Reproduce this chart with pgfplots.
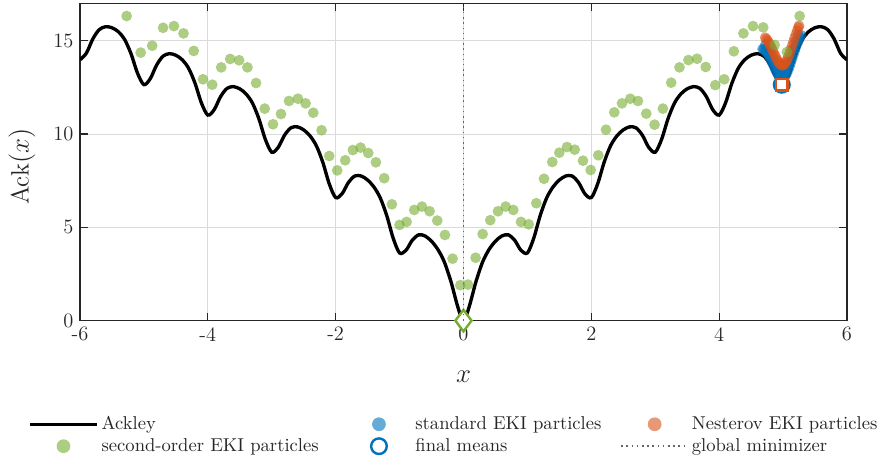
\documentclass[border=0pt]{standalone}
\usepackage{pgfplots}
\pgfplotsset{compat=1.18}
\definecolor{mblue}{RGB}{0,114,189}
\definecolor{morange}{RGB}{217,83,25}
\definecolor{mgreen}{RGB}{119,172,48}
\definecolor{axgray}{RGB}{38,38,38}
\definecolor{gridgray}{RGB}{218,218,218}
\pgfplotsset{
  lineleg/.style={legend image code/.code={\path[draw=none,fill=none] (0pt,-1pt) rectangle (36pt,1pt); \draw[##1] (0pt,0pt) -- (36pt,0pt);}},
  markleg/.style={legend image code/.code={\path[draw=none,fill=none] (0pt,-1pt) rectangle (36pt,1pt); \draw[mark repeat=2,mark phase=2,##1,mark size=3.7pt] plot coordinates {(0pt,0pt) (18pt,0pt) (36pt,0pt)};}},
  circleg/.style={legend image code/.code={\path[draw=none,fill=none] (0pt,-1pt) rectangle (36pt,1pt); \draw[mark repeat=2,mark phase=2,##1] plot coordinates {(0pt,0pt) (18pt,0pt) (36pt,0pt)};}},
}
\begin{document}
\begin{tikzpicture}
\begin{axis}[
  at={(0,0)}, anchor=south west,
  scale only axis, width=412.4pt, height=170.6pt,
  xmin=-6, xmax=6, ymin=0, ymax=17,
  xtick={-6,-4,-2,0,2,4,6}, ytick={0,5,10,15},
  grid=major, major grid style={gridgray, line width=0.5pt},
  axis line style={axgray, line width=0.7pt},
  tick style={axgray, line width=0.6pt},
  tick align=inside, major tick length=4.2pt,
  ticklabel style={font=\fontsize{11}{13}\selectfont, text=axgray},
  /pgf/number format/assume math mode=true,
  xlabel={$x$}, ylabel={Ack$(x)$},
  label style={font=\fontsize{13.5}{16}\selectfont, text=axgray},
  xlabel style={at={(axis description cs:0.5,-0.1764)}, anchor=center},
  ylabel style={at={(axis description cs:-0.0757,0.485)}, anchor=center},
  clip mode=individual,
  legend columns=3,
  legend cell align=left,
  legend style={draw=none, fill=none, inner sep=0pt, font=\fontsize{10}{12}\selectfont, text=axgray,
    at={(axis description cs:-0.0678,-0.361)}, anchor=west,
    nodes={inner sep=1.6pt},
    /tikz/column 2/.style={column sep=12.8pt},
    /tikz/column 4/.style={column sep=8.6pt}},
]
% Ackley function
\addplot[black, line width=1.8pt, smooth, lineleg] coordinates {
(-6.0,13.976) (-5.9,14.327) (-5.8,15.086) (-5.7,15.588) (-5.6,15.747) (-5.5,15.693) (-5.4,15.481) (-5.3,15.055) (-5.2,14.287) (-5.1,13.261)
(-5.0,12.642) (-4.9,12.966) (-4.8,13.698) (-4.7,14.172) (-4.6,14.303) (-4.5,14.219) (-4.4,13.977) (-4.3,13.521) (-4.2,12.722) (-4.1,11.664)
(-4.0,11.013) (-3.9,11.304) (-3.8,12.003) (-3.7,12.442) (-3.6,12.538) (-3.5,12.419) (-3.4,12.141) (-3.3,11.647) (-3.2,10.810) (-3.1,9.714)
(-3.0,9.024) (-2.9,9.275) (-2.8,9.932) (-2.7,10.329) (-2.6,10.383) (-2.5,10.220) (-2.4,9.897) (-2.3,9.358) (-2.2,8.475) (-2.1,7.332)
(-2.0,6.594) (-1.9,6.795) (-1.8,7.403) (-1.7,7.749) (-1.6,7.750) (-1.5,7.534) (-1.4,7.157) (-1.3,6.563) (-1.2,5.624) (-1.1,4.422)
(-1.0,3.625) (-0.9,3.767) (-0.8,4.313) (-0.7,4.597) (-0.6,4.535) (-0.5,4.254) (-0.4,3.811) (-0.3,3.149) (-0.2,2.140) (-0.15,1.509) (-0.1,0.868) (-0.05,0.329)
(0,0)};
\addlegendentry{Ackley}
\addplot[black, line width=1.8pt, smooth, forget plot] coordinates {
(0,0) (0.05,0.329) (0.1,0.868) (0.15,1.509) (0.2,2.140) (0.3,3.149) (0.4,3.811) (0.5,4.254) (0.6,4.535) (0.7,4.597) (0.8,4.313) (0.9,3.767)
(1.0,3.625) (1.1,4.422) (1.2,5.624) (1.3,6.563) (1.4,7.157) (1.5,7.534) (1.6,7.750) (1.7,7.749) (1.8,7.403) (1.9,6.795)
(2.0,6.594) (2.1,7.332) (2.2,8.475) (2.3,9.358) (2.4,9.897) (2.5,10.220) (2.6,10.383) (2.7,10.329) (2.8,9.932) (2.9,9.275)
(3.0,9.024) (3.1,9.714) (3.2,10.810) (3.3,11.647) (3.4,12.141) (3.5,12.419) (3.6,12.538) (3.7,12.442) (3.8,12.003) (3.9,11.304)
(4.0,11.013) (4.1,11.664) (4.2,12.722) (4.3,13.521) (4.4,13.977) (4.5,14.219) (4.6,14.303) (4.7,14.172) (4.8,13.698) (4.9,12.966)
(5.0,12.642) (5.1,13.261) (5.2,14.287) (5.3,15.055) (5.4,15.481) (5.5,15.693) (5.6,15.747) (5.7,15.588) (5.8,15.086) (5.9,14.327) (6.0,13.976)};
% standard EKI particles
\addplot[only marks, mark=*, mark size=2.9pt, mark options={draw opacity=0, fill=mblue, fill opacity=0.6}, markleg] coordinates {
(4.68,14.55) (4.70,14.53) (4.72,14.46) (4.74,14.39) (4.76,14.29) (4.78,14.18) (4.80,14.05) (4.82,13.91) (4.84,13.76) (4.86,13.61) (4.88,13.46)
(4.90,13.32) (4.92,13.20) (4.94,13.09) (4.96,13.03) (4.98,12.98) (5.00,12.99) (5.02,13.04) (5.04,13.14) (5.06,13.26) (5.08,13.43)
(5.10,13.61) (5.12,13.82) (5.14,14.02) (5.16,14.23) (5.18,14.44) (5.20,14.64) (5.22,14.83) (5.24,15.00) (5.26,15.15) (5.28,15.29)
(4.72,14.76) (4.76,14.59) (4.80,14.35) (4.84,14.06) (4.88,13.76) (4.92,13.50) (4.96,13.33) (5.00,13.29) (5.04,13.44) (5.08,13.73)
(5.12,14.12) (5.16,14.53) (5.20,14.94) (5.24,15.30)};
\addlegendentry{standard EKI particles}
% Nesterov EKI particles
\addplot[only marks, mark=*, mark size=2.9pt, mark options={draw opacity=0, fill=morange, fill opacity=0.6}, markleg] coordinates {
(4.72,15.16) (4.74,15.09) (4.76,14.99) (4.78,14.88) (4.80,14.75) (4.82,14.61) (4.84,14.46) (4.86,14.31) (4.88,14.16) (4.90,14.02)
(4.92,13.90) (4.94,13.79) (4.96,13.73) (4.98,13.68) (5.00,13.69) (5.02,13.74) (5.04,13.84) (5.06,13.96) (5.08,14.13) (5.10,14.31)
(5.12,14.52) (5.14,14.72) (5.16,14.93) (5.18,15.14) (5.20,15.34) (5.22,15.53) (5.24,15.70) (5.25,15.80)};
\addlegendentry{Nesterov EKI particles}
% second-order EKI particles
\addplot[only marks, mark=*, mark size=2.9pt, mark options={draw opacity=0, fill=mgreen, fill opacity=0.6}, markleg] coordinates {
(-5.27,16.32) (-5.05,14.36) (-4.87,14.73) (-4.70,15.69) (-4.53,15.78) (-4.38,15.39) (-4.22,14.45) (-4.075,12.93) (-3.93,12.64) (-3.79,13.57)
(-3.65,14.02) (-3.51,13.95) (-3.38,13.57) (-3.245,12.73) (-3.11,11.36) (-2.98,10.52) (-2.855,11.07) (-2.73,11.77) (-2.59,11.89) (-2.47,11.64)
(-2.35,11.14) (-2.22,10.20) (-2.10,8.82) (-1.975,8.05) (-1.85,8.59) (-1.73,9.14) (-1.61,9.27) (-1.49,8.98) (-1.37,8.48) (-1.24,7.63)
(-1.12,6.23) (-1.00,5.13) (-0.89,5.29) (-0.77,5.93) (-0.65,6.11) (-0.53,5.86) (-0.41,5.36) (-0.29,4.59) (-0.17,3.32) (-0.05,1.90)
(0.07,1.93) (0.19,3.37) (0.30,4.64) (0.42,5.38) (0.54,5.86) (0.66,6.11) (0.78,5.93) (0.90,5.29) (1.02,5.16) (1.14,6.29)
(1.26,7.60) (1.39,8.50) (1.50,9.00) (1.62,9.30) (1.74,9.16) (1.87,8.57) (1.99,8.07) (2.11,8.86) (2.23,10.23) (2.36,11.16)
(2.48,11.64) (2.61,11.89) (2.73,11.77) (2.86,11.09) (2.99,10.50) (3.12,11.36) (3.25,12.75) (3.38,13.57) (3.52,13.96) (3.655,14.03)
(3.79,13.59) (3.94,12.62) (4.08,12.93) (4.23,14.43) (4.38,15.39) (4.53,15.78) (4.69,15.71) (4.87,14.77) (5.06,14.39) (5.26,16.32)};
\addlegendentry{second-order EKI particles}
% final means
\addplot[only marks, mark=*, mark size=4.2pt, mark options={draw=mblue, fill=white, line width=1.3pt}, circleg] coordinates {(4.98,12.64)};
\addlegendentry{final means}
% global minimizer
\addplot[gray!80!black, dotted, line width=0.8pt, lineleg] coordinates {(0,0) (0,17)};
\addlegendentry{global minimizer}
% other final means
\addplot[only marks, mark=square*, mark size=3.1pt, mark options={draw=morange, fill=white, line width=1.3pt}, forget plot] coordinates {(4.98,12.64)};
\addplot[only marks, mark=diamond*, mark size=5.8pt, mark options={draw=mgreen, fill=white, line width=1.3pt}, forget plot] coordinates {(0,0)};
\addplot[gray!80!black, dotted, line width=0.8pt, forget plot] coordinates {(0,0) (0,0.9)};
\end{axis}
\pgfresetboundingbox
\path[use as bounding box] (-43pt,-75.4pt) rectangle (435pt,172.4pt);
\end{tikzpicture}
\end{document}
